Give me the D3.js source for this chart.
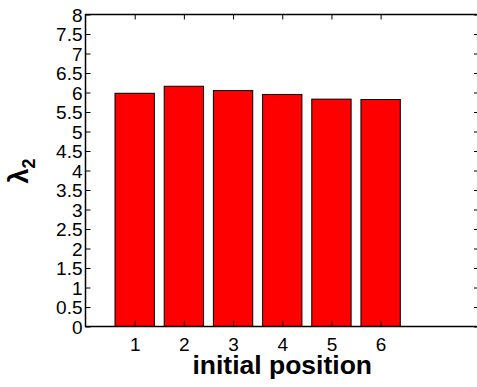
<!DOCTYPE html>
<html>
<head>
<meta charset="utf-8">
<script src="https://cdn.jsdelivr.net/npm/d3@7"></script>
<style>
  body { margin: 0; background: #fff; }
  text { font-family: "Liberation Sans", Arial, sans-serif; }
</style>
</head>
<body>
<svg id="chart" width="477" height="387"></svg>
<script>
// data
const positions = [1, 2, 3, 4, 5, 6];
const lambda2   = [5.98, 6.16, 6.05, 5.95, 5.83, 5.82];
const yTicks    = d3.range(0, 8.01, 0.5);

const m = { left: 85.5, top: 14.5, right: 479, bottom: 326.5 };

const svg = d3.select("#chart");

const x = d3.scaleLinear().domain([0, 8]).range([m.left, m.right]);
const y = d3.scaleLinear().domain([0, 8]).range([m.bottom, m.top]);
const barW = x(0.8) - x(0);

// bars
svg.append("g").selectAll("rect")
  .data(positions.map((p, i) => ({ p, v: lambda2[i] })))
  .join("rect")
  .attr("x", d => x(d.p) - barW / 2)
  .attr("y", d => y(d.v))
  .attr("width", barW)
  .attr("height", d => y(0) - y(d.v))
  .attr("fill", "#ff0000")
  .attr("stroke", "#000")
  .attr("stroke-width", 1);

const fmt = d => (Number.isInteger(d) ? d3.format("d")(d) : d3.format(".1f")(d));

// left axis, ticks pointing inward
const yAxis = svg.append("g").attr("transform", `translate(${m.left},0)`)
  .call(d3.axisLeft(y).tickValues(yTicks).tickFormat(fmt).tickSizeInner(-5).tickSizeOuter(0).tickPadding(3));
yAxis.selectAll("text").attr("font-size", "19px").attr("fill", "#000").attr("dy", "0.36em");

// right axis ticks only
svg.append("g").attr("transform", `translate(${m.right},0)`)
  .call(d3.axisRight(y).tickValues(yTicks).tickFormat("").tickSizeInner(-5).tickSizeOuter(0));

// bottom axis
const xAxis = svg.append("g").attr("transform", `translate(0,${m.bottom})`)
  .call(d3.axisBottom(x).tickValues(positions).tickFormat(d3.format("d")).tickSizeInner(-5).tickSizeOuter(0).tickPadding(11.5));
xAxis.selectAll("text").attr("font-size", "19px").attr("fill", "#000");

// top ticks
svg.append("g").attr("transform", `translate(0,${m.top})`)
  .call(d3.axisTop(x).tickValues(positions).tickFormat("").tickSizeInner(-5).tickSizeOuter(0));

svg.selectAll(".domain").remove();
svg.selectAll(".tick line").attr("stroke", "#000");

// box
svg.append("rect")
  .attr("x", m.left).attr("y", m.top)
  .attr("width", m.right - m.left).attr("height", m.bottom - m.top)
  .attr("fill", "none").attr("stroke", "#000").attr("stroke-width", 1.5);

// x label
svg.append("text")
  .attr("x", (m.left + m.right) / 2).attr("y", 374)
  .attr("text-anchor", "middle")
  .attr("font-size", "26.5px").attr("font-weight", "bold")
  .text("initial position");

// y label: lambda_2
const yl = svg.append("text")
  .attr("transform", "translate(28,171) rotate(-90)")
  .attr("text-anchor", "middle")
  .attr("font-size", "27px");
yl.append("tspan").attr("font-weight", "bold").text("λ");
yl.append("tspan").attr("font-size", "18px").attr("font-weight", "bold").attr("dy", "7").text("2");
</script>
</body>
</html>
